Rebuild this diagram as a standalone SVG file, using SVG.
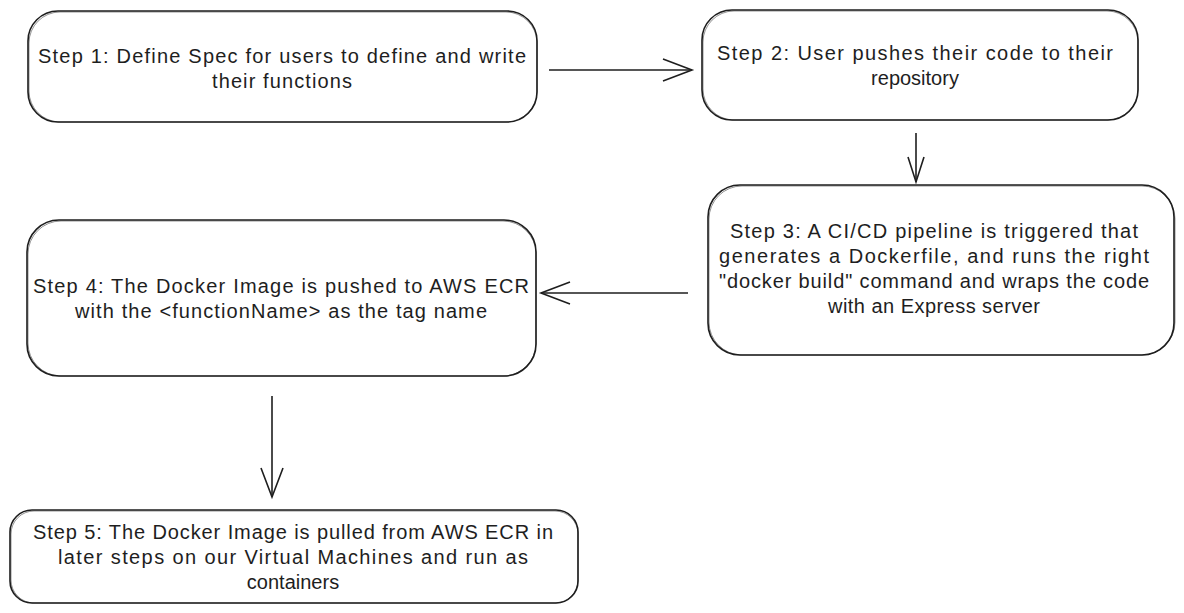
<svg xmlns="http://www.w3.org/2000/svg" width="1184" height="613" viewBox="0 0 1184 613">
<defs>
<style>
.box{fill:#ffffff;stroke:#1e1e1e;stroke-width:1.6;}
.box2{fill:none;stroke:#1e1e1e;stroke-width:0.8;opacity:0.6;}
.t{font-family:"Liberation Sans",Arial,sans-serif;font-size:20px;fill:#1e1e1e;text-anchor:middle;}
.edge{fill:none;stroke:#1e1e1e;stroke-width:1.6;}
</style>
<marker id="ah" markerUnits="userSpaceOnUse" markerWidth="40" markerHeight="30" refX="0" refY="0" viewBox="-32 -15 36 30" orient="auto" overflow="visible">
<path d="M -29 -11 L 0 0 L -29 11" fill="none" stroke="#1e1e1e" stroke-width="1.6" stroke-linejoin="miter"/>
</marker>
<marker id="ahs" markerUnits="userSpaceOnUse" markerWidth="40" markerHeight="30" refX="0" refY="0" viewBox="-32 -15 36 30" orient="auto" overflow="visible">
<path d="M -25 -8 L 0 0 L -25 8" fill="none" stroke="#1e1e1e" stroke-width="1.6"/>
</marker>
</defs>
<rect width="1184" height="613" fill="#ffffff"/>
<g id="connectors">
<path class="edge" d="M 549 70 L 692 70" marker-end="url(#ah)"/>
<path class="edge" d="M 916 133 L 916 182" marker-end="url(#ahs)"/>
<path class="edge" d="M 688 293 L 541 293" marker-end="url(#ah)"/>
<path class="edge" d="M 272 396 L 272 497" marker-end="url(#ah)"/>
</g>
<g id="step1">
<rect class="box" x="28" y="11" width="509" height="111" rx="30" ry="30"/>
<rect class="box2" x="29" y="12" width="508" height="110" rx="31" ry="31"/>
<text class="t" x="282" y="63" textLength="488" lengthAdjust="spacing">Step 1: Define Spec for users to define and write</text>
<text class="t" x="282" y="88" textLength="140" lengthAdjust="spacing">their functions</text>
</g>
<g id="step2">
<rect class="box" x="702" y="10" width="436" height="110" rx="30" ry="30"/>
<rect class="box2" x="703" y="11" width="435" height="109" rx="31" ry="31"/>
<text class="t" x="915" y="60" textLength="396" lengthAdjust="spacing">Step 2: User pushes their code to their</text>
<text class="t" x="915" y="85">repository</text>
</g>
<g id="step3">
<rect class="box" x="708" y="185" width="466" height="170" rx="32" ry="32"/>
<rect class="box2" x="709" y="186" width="466" height="169" rx="33" ry="33"/>
<text class="t" x="934" y="238" textLength="408" lengthAdjust="spacing">Step 3: A CI/CD pipeline is triggered that</text>
<text class="t" x="934" y="263" textLength="430" lengthAdjust="spacing">generates a Dockerfile, and runs the right</text>
<text class="t" x="934" y="288" textLength="430" lengthAdjust="spacing">"docker build" command and wraps the code</text>
<text class="t" x="934" y="313" textLength="212" lengthAdjust="spacing">with an Express server</text>
</g>
<g id="step4">
<rect class="box" x="27" y="220" width="509" height="156" rx="32" ry="32"/>
<rect class="box2" x="28" y="221" width="508" height="155" rx="33" ry="33"/>
<text class="t" x="281" y="293" textLength="496" lengthAdjust="spacing">Step 4: The Docker Image is pushed to AWS ECR</text>
<text class="t" x="281" y="318" textLength="412" lengthAdjust="spacing">with the &lt;functionName&gt; as the tag name</text>
</g>
<g id="step5">
<rect class="box" x="10" y="510" width="568" height="93" rx="22" ry="22"/>
<rect class="box2" x="11" y="511" width="567" height="92" rx="23" ry="23"/>
<text class="t" x="293" y="539" textLength="520" lengthAdjust="spacing">Step 5: The Docker Image is pulled from AWS ECR in</text>
<text class="t" x="293" y="564" textLength="470" lengthAdjust="spacing">later steps on our Virtual Machines and run as</text>
<text class="t" x="293" y="589">containers</text>
</g>
</svg>
